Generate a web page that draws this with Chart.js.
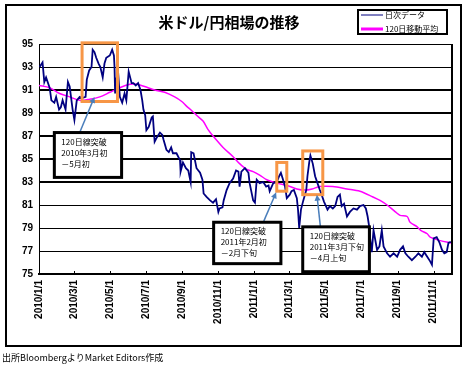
<!DOCTYPE html>
<html>
<head>
<meta charset="utf-8">
<script src="https://cdn.jsdelivr.net/npm/chart.js"></script>
<style>
  body { margin: 0; background: #fff; }
</style>
</head>
<body>
<canvas id="fxChart" width="468" height="367"></canvas>
<script>
const TITLE = '米ドル/円相場の推移';
const SOURCE = '出所BloombergよりMarket Editors作成';
const SERIES_NAMES = ['日次データ', '120日移動平均'];

// x values are days counted from 2010/1/1
const TICK_DAYS = [0, 59, 120, 181, 243, 304, 365, 424, 485, 546, 608, 669];
const TICK_LABELS = ['2010/1/1', '2010/3/1', '2010/5/1', '2010/7/1', '2010/9/1', '2010/11/1',
  '2011/1/1', '2011/3/1', '2011/5/1', '2011/7/1', '2011/9/1', '2011/11/1'];

const DAILY_DAYS = [1, 6, 9, 12, 18, 21, 26, 29, 34, 37, 40, 45, 49, 52, 55, 57, 60, 64, 69, 73,
  79, 81, 85, 89, 91, 94, 97, 101, 104, 108, 111, 114, 120, 124, 127, 128, 129, 131, 134, 137,
  141, 145, 148, 152, 157, 160, 164, 168, 172, 175, 177, 180, 182, 186, 191, 193, 196, 200, 205, 209,
  211, 216, 220, 224, 227, 233, 239, 240, 244, 249, 253, 257, 258, 262, 267, 273, 277, 279, 284, 290,
  295, 300, 304, 306, 311, 313, 318, 323, 329, 334, 338, 340, 343, 349, 355, 357, 363, 366, 369, 374,
  380, 385, 389, 391, 397, 403, 407, 410, 413, 417, 420, 425, 428, 432, 437, 439, 441, 444, 448, 453,
  455, 458, 460, 464, 468, 472, 476, 479, 483, 489, 493, 498, 502, 506, 510, 513, 517, 522, 527, 533,
  539, 544, 550, 554, 557, 560, 561, 564, 567, 573, 577, 581, 584, 590, 595, 601, 607, 612, 617, 621,
  626, 632, 638, 643, 649, 653, 658, 663, 666, 669, 674, 679, 683, 687, 691, 694, 698];
const DAILY_RATES = [93.0, 93.4, 91.7, 92.1, 91.2, 90.1, 89.9, 90.4, 89.3, 89.5, 90.1, 89.3, 91.7, 91.3, 90.1, 89.3, 88.4, 90.1, 90.4, 90.3,
  90.4, 91.9, 92.7, 93.0, 94.5, 94.3, 93.8, 93.3, 93.0, 92.1, 93.3, 93.8, 94.0, 94.5, 94.0, 93.0, 90.7, 91.9, 92.6, 90.4,
  89.9, 90.7, 90.1, 92.6, 91.6, 91.6, 91.4, 91.6, 91.0, 90.1, 89.3, 88.8, 87.5, 87.8, 88.6, 88.7, 86.5, 86.9, 87.3, 87.1,
  86.7, 85.8, 85.6, 86.0, 85.5, 85.5, 84.9, 83.9, 84.7, 84.2, 84.0, 83.0, 85.6, 85.5, 84.2, 83.8, 83.2, 82.0, 81.7, 81.4,
  81.2, 81.5, 80.4, 80.7, 80.8, 81.4, 82.3, 82.9, 83.3, 84.0, 83.9, 82.6, 83.9, 84.2, 83.8, 82.9, 81.4, 81.2, 83.2, 82.9,
  83.0, 82.6, 82.7, 82.2, 82.9, 83.0, 83.5, 83.8, 83.3, 82.6, 81.6, 81.9, 82.2, 82.3, 81.6, 80.6, 79.0, 80.6, 81.4, 82.3,
  83.5, 84.7, 85.3, 84.6, 83.5, 82.9, 82.3, 81.9, 81.3, 80.6, 80.9, 80.7, 80.9, 81.7, 81.9, 80.9, 81.1, 80.0, 80.4, 80.7,
  80.6, 80.9, 81.0, 80.7, 80.0, 79.0, 78.2, 76.9, 78.8, 77.1, 77.4, 78.8, 77.4, 76.8, 76.5, 76.8, 76.5, 77.1, 77.4, 76.8,
  76.5, 76.2, 76.5, 76.8, 76.5, 76.9, 76.5, 76.1, 75.8, 78.1, 78.2, 77.7, 77.1, 76.8, 76.9, 77.7, 77.8];

const MA_DAYS = [0, 18, 35, 52, 69, 86, 103, 120, 137, 154, 166, 179, 196, 213, 230, 242, 250, 259, 267, 278,
  286, 295, 312, 329, 340, 352, 363, 374, 386, 403, 420, 437, 451, 463, 476, 498, 522, 544, 566, 578,
  590, 604, 612, 624, 629, 641, 647, 658, 663, 680, 699];
const MA_RATES = [91.4, 91.2, 90.7, 90.4, 90.1, 90.2, 90.4, 90.8, 91.2, 91.5, 91.5, 91.3, 91.0, 90.8, 90.4, 90.0, 89.6, 89.2, 88.8, 88.3,
  87.6, 87.0, 86.0, 85.2, 84.6, 84.1, 83.9, 83.6, 83.2, 82.9, 82.7, 82.4, 82.3, 82.4, 82.6, 82.6, 82.4, 82.2, 81.7, 81.4,
  81.0, 80.4, 80.1, 80.0, 79.5, 79.1, 78.8, 78.5, 78.2, 77.9, 77.7];

// highlighted periods: [day from, day to, rate top, rate bottom]
const HIGHLIGHTS = [[73, 133, 95.1, 90.0], [403, 420, 84.7, 82.2], [447, 481, 85.7, 81.9]];
const NOTES = [
  { lines: ['120日線突破', '2010年3月初', '－5月初'], box: [26, 140, 87.3, 83.4], arrow: [69, 87.3, 94, 90.4] },
  { lines: ['120日線突破', '2011年2月初', '－2月下旬'], box: [296, 410, 79.5, 75.9], arrow: [381, 79.6, 402, 82.1] },
  { lines: ['120日線突破', '2011年3月下旬', '－4月上旬'], box: [447, 560, 79.1, 75.2], arrow: [477, 79.1, 471, 81.9] }
];

const JP = '"Noto Sans CJK JP", sans-serif';

const decorations = {
  id: 'decorations',
  beforeDraw(chart) {
    const ctx = chart.ctx;
    ctx.save();
    ctx.fillStyle = '#fff';
    ctx.fillRect(0, 0, chart.width, chart.height);
    ctx.restore();
  },
  afterDatasetsDraw(chart) {
    const { ctx, chartArea, scales: { x, y } } = chart;
    ctx.save();
    // plot frame right side and inner x ticks
    ctx.strokeStyle = '#000';
    ctx.lineWidth = 2;
    ctx.beginPath();
    ctx.moveTo(chartArea.right, chartArea.top);
    ctx.lineTo(chartArea.right, chartArea.bottom);
    ctx.stroke();
    ctx.lineWidth = 1;
    TICK_DAYS.forEach(d => {
      const px = Math.round(x.getPixelForValue(d)) + 0.5;
      ctx.beginPath();
      ctx.moveTo(px, chartArea.bottom);
      ctx.lineTo(px, chartArea.bottom - 3);
      ctx.stroke();
    });

    // orange highlight boxes
    ctx.strokeStyle = '#F79646';
    ctx.lineWidth = 3;
    HIGHLIGHTS.forEach(([d0, d1, top, bottom]) => {
      const x0 = x.getPixelForValue(d0), x1 = x.getPixelForValue(d1);
      const y0 = y.getPixelForValue(top), y1 = y.getPixelForValue(bottom);
      ctx.strokeRect(x0, y0, x1 - x0, y1 - y0);
    });

    NOTES.forEach(n => {
      // arrow
      const ax0 = x.getPixelForValue(n.arrow[0]), ay0 = y.getPixelForValue(n.arrow[1]);
      const ax1 = x.getPixelForValue(n.arrow[2]), ay1 = y.getPixelForValue(n.arrow[3]);
      const ang = Math.atan2(ay1 - ay0, ax1 - ax0);
      ctx.strokeStyle = '#4A7EBB';
      ctx.fillStyle = '#4A7EBB';
      ctx.lineWidth = 1.5;
      ctx.beginPath();
      ctx.moveTo(ax0, ay0);
      ctx.lineTo(ax1 - 4 * Math.cos(ang), ay1 - 4 * Math.sin(ang));
      ctx.stroke();
      ctx.beginPath();
      ctx.moveTo(ax1, ay1);
      ctx.lineTo(ax1 - 6 * Math.cos(ang) + 3 * Math.sin(ang), ay1 - 6 * Math.sin(ang) - 3 * Math.cos(ang));
      ctx.lineTo(ax1 - 6 * Math.cos(ang) - 3 * Math.sin(ang), ay1 - 6 * Math.sin(ang) + 3 * Math.cos(ang));
      ctx.closePath();
      ctx.fill();

      // text box
      const bx0 = x.getPixelForValue(n.box[0]), bx1 = x.getPixelForValue(n.box[1]);
      const by0 = y.getPixelForValue(n.box[2]), by1 = y.getPixelForValue(n.box[3]);
      ctx.fillStyle = '#fff';
      ctx.fillRect(bx0, by0, bx1 - bx0, by1 - by0);
      ctx.strokeStyle = '#000';
      ctx.lineWidth = 3;
      ctx.strokeRect(bx0, by0, bx1 - bx0, by1 - by0);
      ctx.fillStyle = '#000';
      ctx.font = '8px ' + JP;
      ctx.textBaseline = 'middle';
      ctx.textAlign = 'left';
      n.lines.forEach((t, i) => ctx.fillText(t, bx0 + 7, by0 + 9 + i * 11));
    });
    ctx.restore();
  },
  afterDraw(chart) {
    const ctx = chart.ctx;
    const ds = chart.data.datasets;
    ctx.save();
    // outer frame
    ctx.strokeStyle = '#000';
    ctx.lineWidth = 2;
    ctx.strokeRect(6, 5, 455, 341);

    // legend
    ctx.fillStyle = '#fff';
    ctx.fillRect(358, 10, 89, 24);
    ctx.strokeRect(358, 10, 89, 24);
    ctx.font = '8px ' + JP;
    ctx.textBaseline = 'middle';
    ctx.textAlign = 'left';
    [[15, 1], [29, 3]].forEach(([ly, lw], i) => {
      ctx.strokeStyle = ds[i].borderColor;
      ctx.lineWidth = lw;
      ctx.beginPath();
      ctx.moveTo(361, ly);
      ctx.lineTo(383, ly);
      ctx.stroke();
      ctx.fillStyle = '#000';
      ctx.fillText(ds[i].label, 385, ly);
    });

    // source
    ctx.font = '9px ' + JP;
    ctx.fillText(SOURCE, 2, 358);
    ctx.restore();
  }
};

const ctx = document.getElementById('fxChart').getContext('2d');
const fxChart = new Chart(ctx, {
  type: 'line',
  data: {
    datasets: [{
      label: SERIES_NAMES[0],
      data: DAILY_DAYS.map((d, i) => ({ x: d, y: DAILY_RATES[i] })),
      borderColor: '#000080',
      borderWidth: 1.8,
      pointRadius: 0,
      tension: 0
    }, {
      label: SERIES_NAMES[1],
      data: MA_DAYS.map((d, i) => ({ x: d, y: MA_RATES[i] })),
      borderColor: '#FF00FF',
      borderWidth: 1.5,
      pointRadius: 0,
      tension: 0.3
    }]
  },
  options: {
    responsive: false,
    animation: false,
    layout: {
      padding: { left: 6, right: 16, top: 0, bottom: 33 }
    },
    plugins: {
      legend: { display: false },
      tooltip: { enabled: false },
      title: {
        display: true,
        text: TITLE,
        color: '#000',
        font: { family: JP, size: 15, weight: 'bold', lineHeight: 1.2 },
        padding: { top: 13, bottom: 13 }
      }
    },
    scales: {
      x: {
        type: 'linear',
        min: 0,
        max: 700,
        afterFit: (scale) => { scale.height = 60; },
        afterBuildTicks: (scale) => { scale.ticks = TICK_DAYS.map(v => ({ value: v })); },
        grid: { display: false, drawTicks: false },
        border: { display: true, color: '#000', width: 2 },
        ticks: {
          autoSkip: false,
          minRotation: 90,
          maxRotation: 90,
          padding: 6,
          color: '#000',
          font: { family: 'Liberation Sans', size: 10, weight: 'bold' },
          callback: (value) => TICK_LABELS[TICK_DAYS.indexOf(value)]
        }
      },
      y: {
        min: 75,
        max: 95,
        afterFit: (scale) => { scale.width = 33; },
        grid: {
          color: '#000',
          lineWidth: (c) => (c.tick && c.tick.value >= 83 && c.tick.value <= 91) ? 2 : 1,
          drawTicks: false
        },
        border: { display: true, color: '#000', width: 1 },
        ticks: {
          stepSize: 2,
          padding: 6,
          color: '#000',
          font: { family: 'Liberation Sans', size: 10, weight: 'bold' }
        }
      }
    }
  },
  plugins: [decorations]
});
</script>
</body>
</html>
